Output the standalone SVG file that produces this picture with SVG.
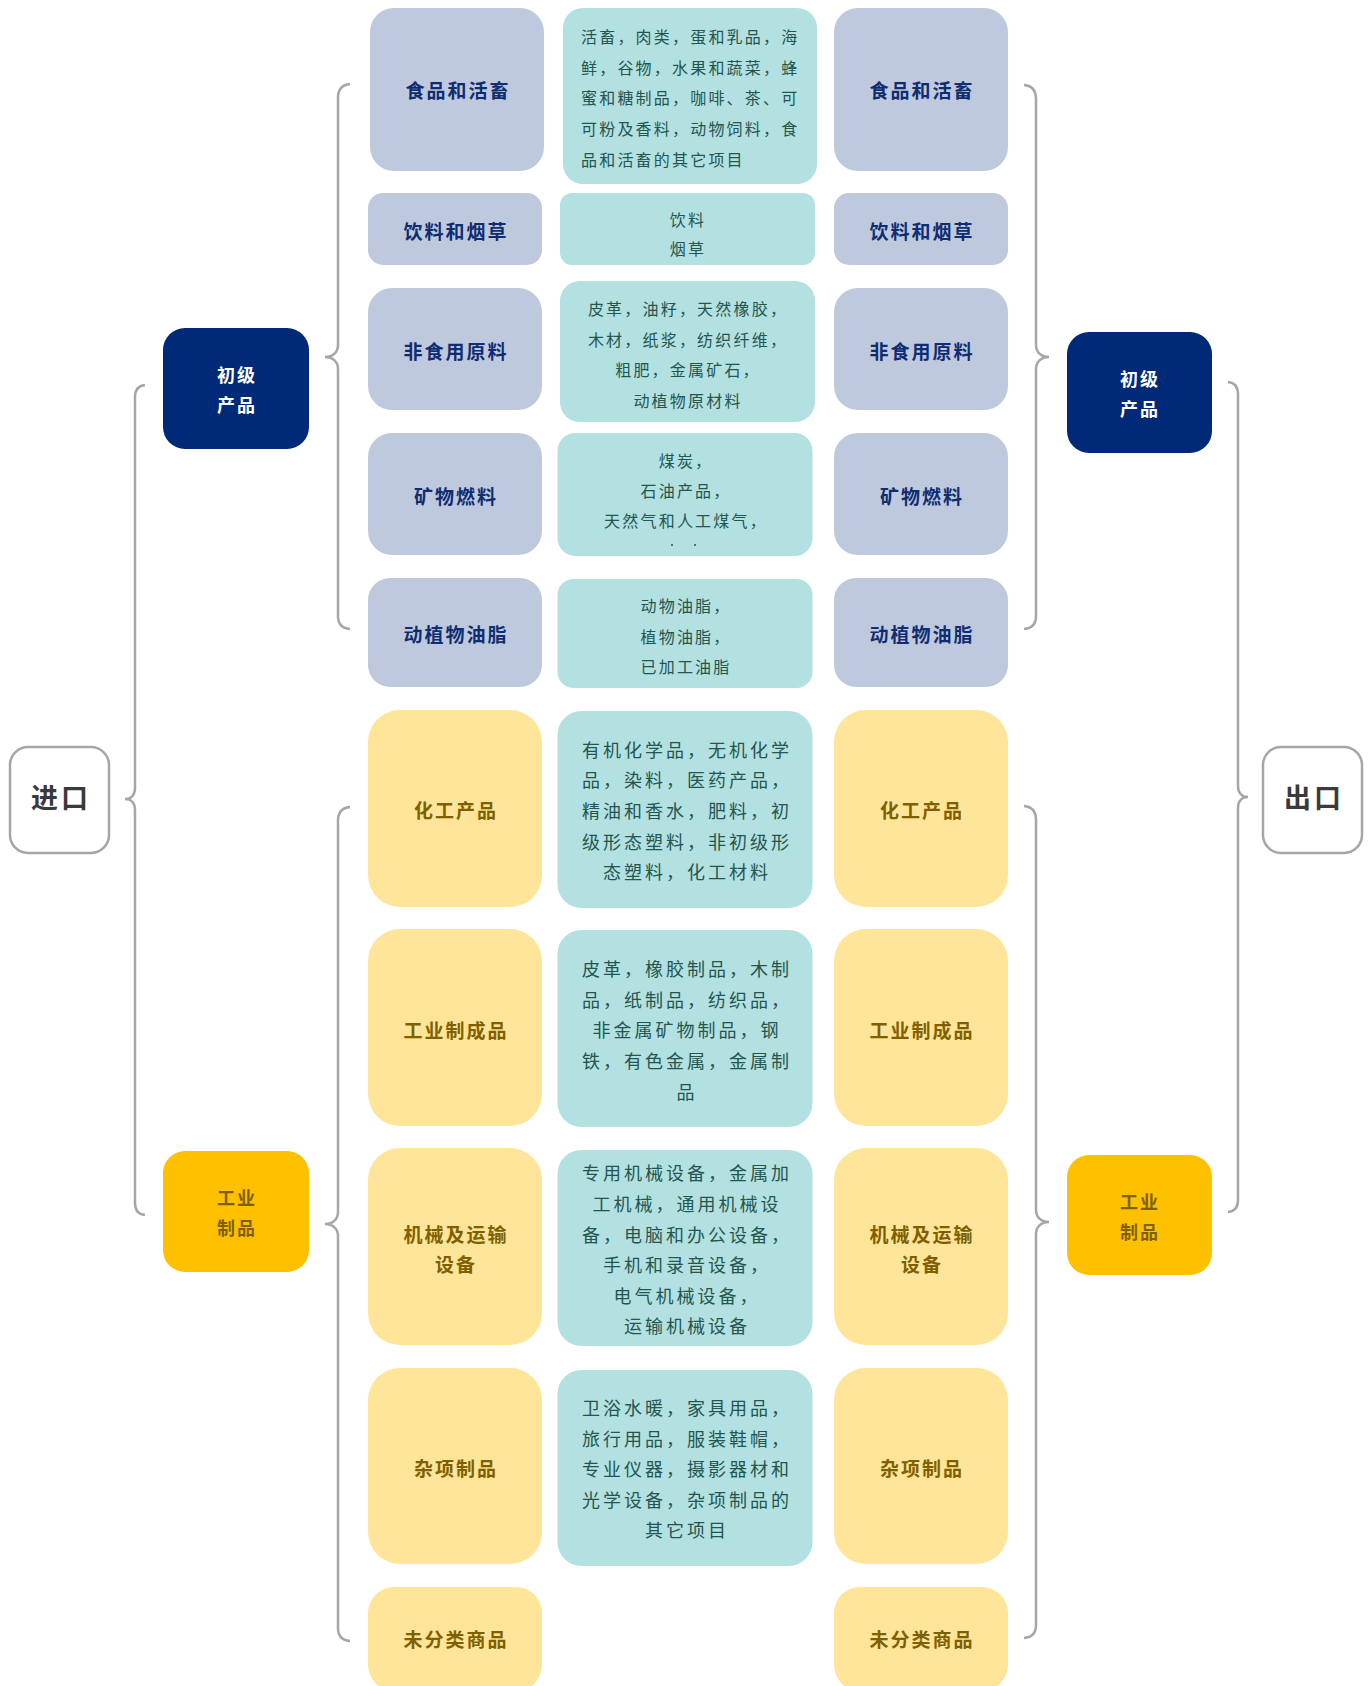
<svg xmlns="http://www.w3.org/2000/svg" width="1370" height="1686" viewBox="0 0 1370 1686">
<style>
text{font-family:"Noto Sans CJK SC","Noto Sans CJK JP",sans-serif;dominant-baseline:central;text-anchor:middle}
.cat{fill:#BFC9DD}
.catt{fill:#0E2D72;font-size:19px;font-weight:700;letter-spacing:2px}
.yel{fill:#FFE599}
.yelt{fill:#7F6000;font-size:19px;font-weight:700;letter-spacing:2px}
.teal{fill:#B3E0E0}
.s{fill:#245650;font-size:16px;letter-spacing:2.2px}
.st{text-anchor:start}
.m{fill:#245650;font-size:18px;letter-spacing:3px}
.navy{fill:#002A77}
.navyt{fill:#FFFFFF;font-size:18px;font-weight:700;letter-spacing:2px}
.gold{fill:#FFC000}
.goldt{fill:#7F6000;font-size:18px;font-weight:700;letter-spacing:2px}
.root{fill:#FFFFFF;stroke:#A6A6A6;stroke-width:2.5}
.roott{fill:#3A3A3A;font-size:27px;font-weight:700;letter-spacing:3px}
.br{fill:none;stroke:#A6A6A6;stroke-width:2.5}
</style>

<g id="connectors">
  <path class="br" d="M350,84 Q338,85 338,98 V345 C338,352 333,357 325,357 C333,357 338,362 338,369 V616 Q338,628 350,629"/>
  <path class="br" d="M145,385 Q135,386 135,397 V788 C135,795 131,799 125,799 C131,799 135,803 135,810 V1203 Q135,1214 145,1215"/>
  <path class="br" d="M350,807 Q338,808 338,821 V1212 C338,1219 333,1224 325,1224 C333,1224 338,1229 338,1236 V1628 Q338,1640 350,1641"/>
  <path class="br" d="M1024,85 Q1036,86 1036,99 V345 C1036,352 1041,357 1049,357 C1041,357 1036,362 1036,369 V616 Q1036,628 1024,629"/>
  <path class="br" d="M1228,382 Q1238,383 1238,394 V786 C1238,793 1242,797 1248,797 C1242,797 1238,801 1238,808 V1200 Q1238,1211 1228,1212"/>
  <path class="br" d="M1024,806 Q1036,807 1036,820 V1210 C1036,1217 1041,1222 1049,1222 C1041,1222 1036,1227 1036,1234 V1625 Q1036,1637 1024,1638"/>
</g>

<g id="import">
  <rect class="root" x="10" y="747" width="99" height="106" rx="18"/>
  <text class="roott" x="61" y="796">进口</text>
</g>
<g id="export">
  <rect class="root" x="1263" y="747" width="99" height="106" rx="18"/>
  <text class="roott" x="1314" y="796">出口</text>
</g>

<g id="import-primary">
  <rect class="navy" x="163" y="328" width="146" height="121" rx="22"/>
  <text class="navyt" x="237" y="374">初级</text>
  <text class="navyt" x="237" y="404">产品</text>
</g>
<g id="export-primary">
  <rect class="navy" x="1067" y="332" width="145" height="121" rx="22"/>
  <text class="navyt" x="1140" y="378">初级</text>
  <text class="navyt" x="1140" y="408">产品</text>
</g>
<g id="import-industrial">
  <rect class="gold" x="163" y="1151" width="146" height="121" rx="22"/>
  <text class="goldt" x="237" y="1197">工业</text>
  <text class="goldt" x="237" y="1227">制品</text>
</g>
<g id="export-industrial">
  <rect class="gold" x="1067" y="1155" width="145" height="120" rx="22"/>
  <text class="goldt" x="1140" y="1201">工业</text>
  <text class="goldt" x="1140" y="1231">制品</text>
</g>

<!-- left category column -->
<g id="imp-food"><rect class="cat" x="370" y="8" width="174" height="163" rx="24"/><text class="catt" x="458" y="89">食品和活畜</text></g>
<g id="imp-bev"><rect class="cat" x="368" y="193" width="174" height="72" rx="15"/><text class="catt" x="456" y="230">饮料和烟草</text></g>
<g id="imp-raw"><rect class="cat" x="368" y="288" width="174" height="122" rx="24"/><text class="catt" x="456" y="350">非食用原料</text></g>
<g id="imp-fuel"><rect class="cat" x="368" y="433" width="174" height="122" rx="24"/><text class="catt" x="456" y="495">矿物燃料</text></g>
<g id="imp-oil"><rect class="cat" x="368" y="578" width="174" height="109" rx="22"/><text class="catt" x="456" y="633">动植物油脂</text></g>
<g id="imp-chem"><rect class="yel" x="368" y="710" width="174" height="197" rx="32"/><text class="yelt" x="456" y="809">化工产品</text></g>
<g id="imp-manu"><rect class="yel" x="368" y="929" width="174" height="197" rx="32"/><text class="yelt" x="456" y="1029">工业制成品</text></g>
<g id="imp-mach"><rect class="yel" x="368" y="1148" width="174" height="197" rx="32"/><text class="yelt" x="456" y="1233">机械及运输</text><text class="yelt" x="456" y="1263">设备</text></g>
<g id="imp-misc"><rect class="yel" x="368" y="1368" width="174" height="196" rx="32"/><text class="yelt" x="456" y="1467">杂项制品</text></g>
<g id="imp-uncl"><rect class="yel" x="368" y="1587" width="174" height="104" rx="26"/><text class="yelt" x="456" y="1638">未分类商品</text></g>

<!-- right category column -->
<g id="exp-food"><rect class="cat" x="834" y="8" width="174" height="163" rx="24"/><text class="catt" x="922" y="89">食品和活畜</text></g>
<g id="exp-bev"><rect class="cat" x="834" y="193" width="174" height="72" rx="15"/><text class="catt" x="922" y="230">饮料和烟草</text></g>
<g id="exp-raw"><rect class="cat" x="834" y="288" width="174" height="122" rx="24"/><text class="catt" x="922" y="350">非食用原料</text></g>
<g id="exp-fuel"><rect class="cat" x="834" y="433" width="174" height="122" rx="24"/><text class="catt" x="922" y="495">矿物燃料</text></g>
<g id="exp-oil"><rect class="cat" x="834" y="578" width="174" height="109" rx="22"/><text class="catt" x="922" y="633">动植物油脂</text></g>
<g id="exp-chem"><rect class="yel" x="834" y="710" width="174" height="197" rx="32"/><text class="yelt" x="922" y="809">化工产品</text></g>
<g id="exp-manu"><rect class="yel" x="834" y="929" width="174" height="197" rx="32"/><text class="yelt" x="922" y="1029">工业制成品</text></g>
<g id="exp-mach"><rect class="yel" x="834" y="1148" width="174" height="197" rx="32"/><text class="yelt" x="922" y="1233">机械及运输</text><text class="yelt" x="922" y="1263">设备</text></g>
<g id="exp-misc"><rect class="yel" x="834" y="1368" width="174" height="196" rx="32"/><text class="yelt" x="922" y="1467">杂项制品</text></g>
<g id="exp-uncl"><rect class="yel" x="834" y="1587" width="174" height="104" rx="26"/><text class="yelt" x="922" y="1638">未分类商品</text></g>

<!-- middle description column -->
<g id="desc-food">
  <rect class="teal" x="563" y="8" width="254" height="176" rx="20"/>
  <text class="s st" x="581" y="36">活畜，肉类，蛋和乳品，海</text>
  <text class="s st" x="581" y="67">鲜，谷物，水果和蔬菜，蜂</text>
  <text class="s st" x="581" y="97">蜜和糖制品，咖啡、茶、可</text>
  <text class="s st" x="581" y="128">可粉及香料，动物饲料，食</text>
  <text class="s st" x="581" y="159">品和活畜的其它项目</text>
</g>
<g id="desc-bev">
  <rect class="teal" x="560" y="193" width="255" height="72" rx="12"/>
  <text class="s" x="688" y="219">饮料</text>
  <text class="s" x="688" y="248">烟草</text>
</g>
<g id="desc-raw">
  <rect class="teal" x="560" y="281" width="255" height="141" rx="20"/>
  <text class="s" x="688" y="308">皮革，油籽，天然橡胶，</text>
  <text class="s" x="688" y="339">木材，纸浆，纺织纤维，</text>
  <text class="s" x="688" y="369">粗肥，金属矿石，</text>
  <text class="s" x="688" y="400">动植物原材料</text>
</g>
<g id="desc-fuel">
  <rect class="teal" x="557.5" y="433" width="255" height="123" rx="18"/>
  <text class="s" x="686" y="460">煤炭，</text>
  <text class="s" x="686" y="490">石油产品，</text>
  <text class="s" x="686" y="520">天然气和人工煤气，</text>
  <circle cx="672" cy="545" r="1" fill="#245650"/>
  <circle cx="695" cy="545" r="1" fill="#245650"/>
</g>
<g id="desc-oil">
  <rect class="teal" x="557.5" y="579" width="255" height="109" rx="16"/>
  <text class="s" x="686" y="605">动物油脂，</text>
  <text class="s" x="686" y="636">植物油脂，</text>
  <text class="s" x="686" y="666">已加工油脂</text>
</g>
<g id="desc-chem">
  <rect class="teal" x="557.5" y="711" width="255" height="197" rx="24"/>
  <text class="m" x="687" y="749">有机化学品，无机化学</text>
  <text class="m" x="687" y="779">品，染料，医药产品，</text>
  <text class="m" x="687" y="810">精油和香水，肥料，初</text>
  <text class="m" x="687" y="841">级形态塑料，非初级形</text>
  <text class="m" x="687" y="871">态塑料，化工材料</text>
</g>
<g id="desc-manu">
  <rect class="teal" x="557.5" y="930" width="255" height="197" rx="24"/>
  <text class="m" x="687" y="968">皮革，橡胶制品，木制</text>
  <text class="m" x="687" y="999">品，纸制品，纺织品，</text>
  <text class="m" x="687" y="1029">非金属矿物制品，钢</text>
  <text class="m" x="687" y="1060">铁，有色金属，金属制</text>
  <text class="m" x="687" y="1091">品</text>
</g>
<g id="desc-mach">
  <rect class="teal" x="557.5" y="1150" width="255" height="196" rx="24"/>
  <text class="m" x="687" y="1172">专用机械设备，金属加</text>
  <text class="m" x="687" y="1203">工机械，通用机械设</text>
  <text class="m" x="687" y="1234">备，电脑和办公设备，</text>
  <text class="m" x="687" y="1264">手机和录音设备，</text>
  <text class="m" x="687" y="1295">电气机械设备，</text>
  <text class="m" x="687" y="1325">运输机械设备</text>
</g>
<g id="desc-misc">
  <rect class="teal" x="557.5" y="1370" width="255" height="196" rx="24"/>
  <text class="m" x="687" y="1407">卫浴水暖，家具用品，</text>
  <text class="m" x="687" y="1438">旅行用品，服装鞋帽，</text>
  <text class="m" x="687" y="1468">专业仪器，摄影器材和</text>
  <text class="m" x="687" y="1499">光学设备，杂项制品的</text>
  <text class="m" x="687" y="1529">其它项目</text>
</g>
</svg>
